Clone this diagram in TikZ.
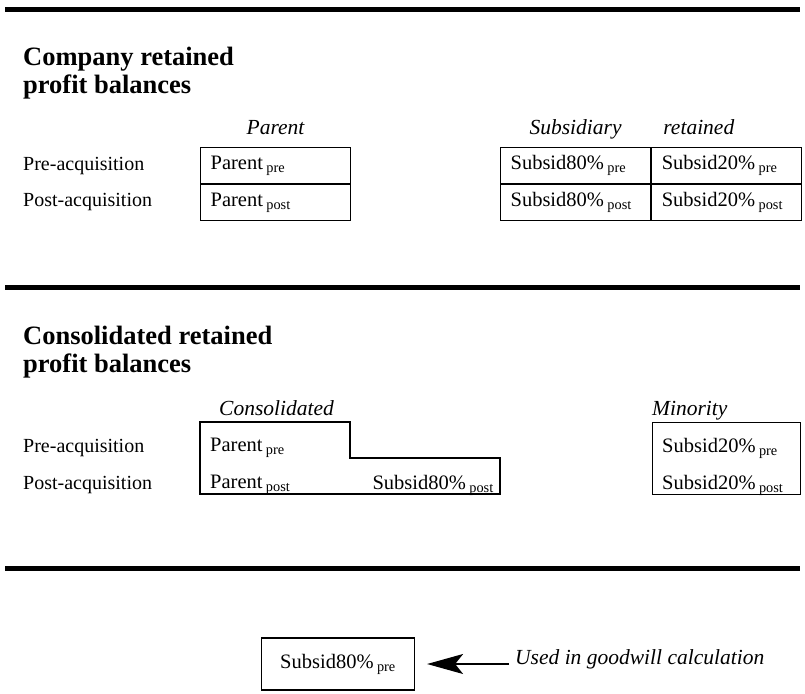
\documentclass[tikz,border=0pt]{standalone}
\usepackage{fontspec}
\setmainfont{Liberation Serif}
\usetikzlibrary{arrows.meta,positioning}
\newcommand{\spre}{\,\textsubscript{pre}}
\newcommand{\spost}{\,\textsubscript{post}}

\begin{document}
\begin{tikzpicture}[
  x=1pt, y=-1pt,
  bar/.style={line width=5pt},
  title/.style={anchor=north west, align=left, inner sep=0pt, font=\fontsize{26.5}{28}\selectfont\bfseries},
  rowlab/.style={anchor=west, inner sep=0pt, font=\fontsize{20}{22}\selectfont},
  collab/.style={inner sep=0pt, text height=0.7em, text depth=0.25em, font=\fontsize{21.5}{23}\selectfont\itshape},
  cell/.style={draw, line width=1.2pt, minimum height=36pt, text width=130pt, inner xsep=10pt, inner ysep=0pt, align=left, font=\fontsize{20.5}{22}\selectfont},
  txt/.style={anchor=west, inner sep=0pt, font=\fontsize{20.5}{22}\selectfont},
  arr/.style={-{Stealth[length=36pt, width=20pt, inset=8pt]}, line width=1.2pt}
]
\useasboundingbox (0,0) rectangle (805,693);

% Separating bars
\coordinate (bar1) at (5,10);
\coordinate (bar2) at (5,287);
\coordinate (bar3) at (5,568);
\draw[bar] (bar1) -- ++(795,0);
\draw[bar] (bar2) -- ++(795,0);
\draw[bar] (bar3) -- ++(795,0);

% Company balances: parent and subsidiary
\node[title] (comptitle) at (23,47) {Company retained\\profit balances};
\node[rowlab] (pre1) at (23,166) {Pre-acquisition};
\node[rowlab] (post1) at (23,202) {Post-acquisition};
\node[cell, anchor=north west] (parpre) at (200,147) {Parent\spre};
\node[cell, below=0pt of parpre] (parpost) {Parent\spost};
\node[cell, anchor=north west] (s80pre) at (500,147) {Subsid80\%\spre};
\node[cell, right=0pt of s80pre] (s20pre) {Subsid20\%\spre};
\node[cell, below=0pt of s80pre] (s80post) {Subsid80\%\spost};
\node[cell, below=0pt of s20pre] (s20post) {Subsid20\%\spost};
\node[collab, above=10pt of parpre] (parlab) {Parent};
\node[collab, above=10pt of s80pre] (sublab) {Subsidiary};
\node[collab, above right=10pt and 12pt of s20pre.north west] (retlab) {retained};

% Consolidated balances: group and minority
\node[title] (constitle) at (23,326) {Consolidated retained\\profit balances};
\node[rowlab] (pre2) at (23,448) {Pre-acquisition};
\node[rowlab] (post2) at (23,485) {Post-acquisition};
\coordinate (cons) at (200,422);
\draw[line width=1.2pt] (cons) -- ++(150,0) -- ++(0,36) -- ++(150,0) -- ++(0,36) -- ++(-300,0) -- cycle;
\node[txt] (cparpre) at (210,448) {Parent\spre};
\node[txt] (cparpost) at (210,485) {Parent\spost};
\node[txt, anchor=east] (cs80post) at (494,485) {Subsid80\%\spost};
\node[collab, anchor=south west] (conslab) at (219,418) {Consolidated};
\node[draw, line width=1.2pt, minimum width=148pt, minimum height=72pt, anchor=north west] (minor) at (652,422) {};
\node[txt] (ms20pre) at (662,448) {Subsid20\%\spre};
\node[txt] (ms20post) at (662,485) {Subsid20\%\spost};
\node[collab, anchor=south west] (minlab) at (652,418) {Minority};

% Goodwill
\node[cell, text width=133pt, align=center, minimum height=52pt] (goodwill) at (338,664) {Subsid80\%\spre};
\node[collab, anchor=west] (gwnote) at (515,662) {Used in goodwill calculation};
\draw[arr] ([xshift=-6pt]gwnote.west |- goodwill.east) -- ([xshift=12pt]goodwill.east);

\end{tikzpicture}
\end{document}
